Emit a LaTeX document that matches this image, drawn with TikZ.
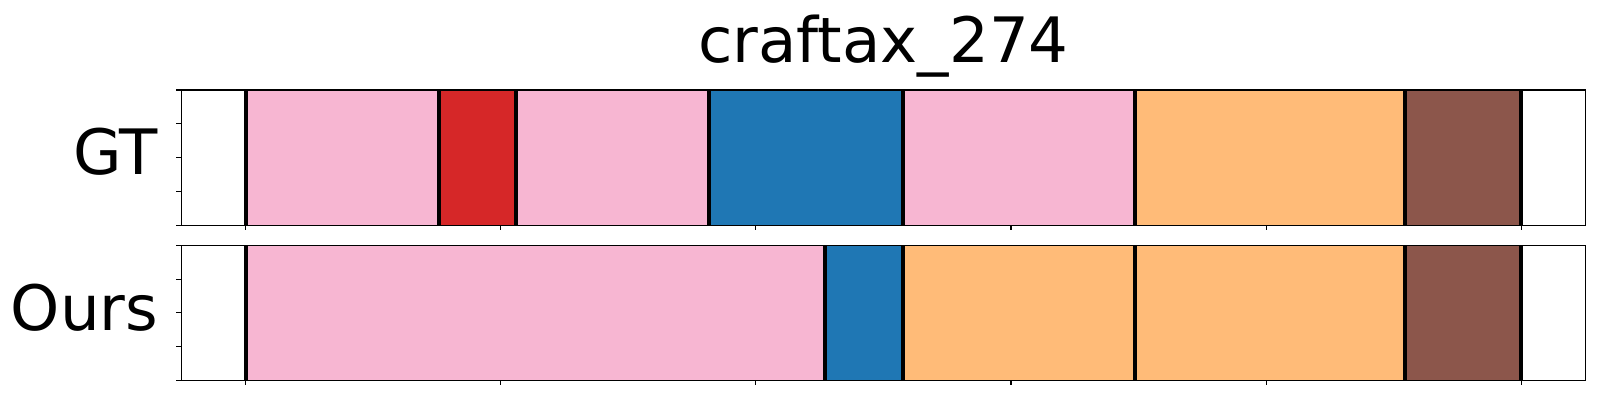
\documentclass[tikz,border=0pt]{standalone}
\usepackage{fontspec}
\setmainfont{DejaVu Sans}
\usepackage{tikz}

\definecolor{segpink}{HTML}{F7B6D2}
\definecolor{segred}{HTML}{D62728}
\definecolor{segblue}{HTML}{1F77B4}
\definecolor{segorange}{HTML}{FFBB78}
\definecolor{segbrown}{HTML}{8C564B}

\begin{document}
\begin{tikzpicture}[x=1pt,y=-1pt,
    lbl/.style={font=\fontsize{62.6}{70}\selectfont, inner sep=0pt},
    sep/.style={line width=4pt},
    frame/.style={line width=1.3pt},
    tick/.style={line width=1.1pt}]
    \useasboundingbox (0,0) rectangle (1600,400);

    % GT row
    \foreach \a/\b/\c in {245.7/439/segpink, 439/516/segred, 516/708.7/segpink,
        708.7/903/segblue, 903/1134.7/segpink, 1134.7/1404.8/segorange,
        1404.8/1520.8/segbrown}
        \fill[\c] (\a,90) rectangle (\b,225.3);
    \foreach \x in {245.7,439,516,708.7,903,1134.7,1404.8,1520.8}
        \draw[sep] (\x,90) -- (\x,225.3);

    % Ours row
    \foreach \a/\b/\c in {245.7/824.8/segpink, 824.8/903/segblue,
        903/1134.7/segorange, 1134.7/1404.8/segorange, 1404.8/1520.8/segbrown}
        \fill[\c] (\a,245.3) rectangle (\b,380.3);
    \foreach \x in {245.7,824.8,903,1134.7,1404.8,1520.8}
        \draw[sep] (\x,245.3) -- (\x,380.3);

    % axes
    \draw[frame] (181.3,90) rectangle (1585.7,225.3);
    \draw[frame] (181.3,245.3) rectangle (1585.7,380.3);
    \foreach \k in {0,...,5} {
        \draw[tick] (245.7+\k*255.1,225.3) -- ++(0,5);
        \draw[tick] (245.7+\k*255.1,380.3) -- ++(0,5);
    }
    \foreach \k in {0,...,4} {
        \draw[tick] (181.3,90+\k*33.825) -- ++(-5,0);
        \draw[tick] (181.3,245.3+\k*33.75) -- ++(-5,0);
    }

    \node[lbl, anchor=base] (title) at (883.5,62.3) {craftax\_274};
    \node[lbl, anchor=base east] (gt) at (158.3,174) {GT};
    \node[lbl, anchor=base east] (ours) at (158.3,330) {Ours};
\end{tikzpicture}
\end{document}
